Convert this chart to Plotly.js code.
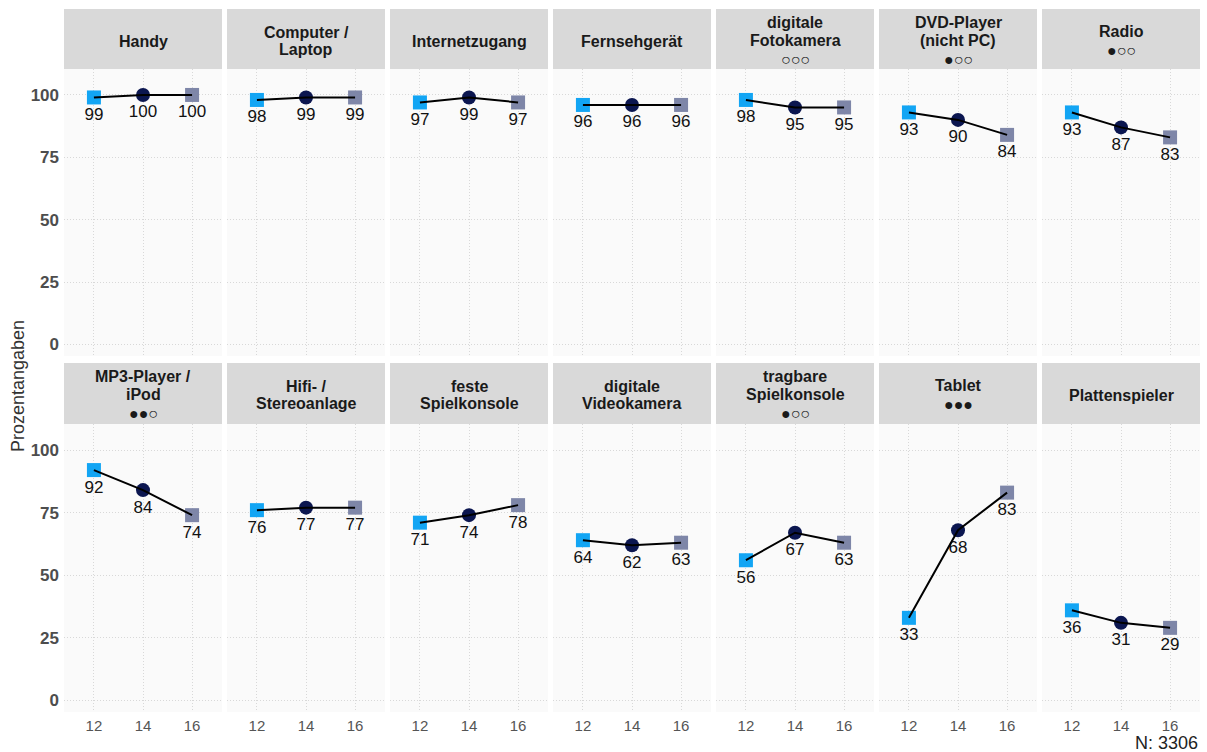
<!DOCTYPE html>
<html><head><meta charset="utf-8">
<script src="https://cdn.plot.ly/plotly-3.0.1.min.js"></script>
<style>html,body{margin:0;padding:0;background:#fff}#chart{width:1207px;height:752px}</style>
</head><body><div id="chart"></div>
<script>
const waves = [12, 14, 16];
const categories = ['Handy', 'Computer /\nLaptop', 'Internetzugang', 'Fernsehgerät', 'digitale\nFotokamera', 'DVD-Player\n(nicht PC)', 'Radio',
  'MP3-Player /\niPod', 'Hifi- /\nStereoanlage', 'feste\nSpielkonsole', 'digitale\nVideokamera', 'tragbare\nSpielkonsole', 'Tablet', 'Plattenspieler'];
const significance = ['', '', '', '', '○○○', '●○○', '●○○', '●●○', '', '', '', '●○○', '●●●', ''];
const values2012 = [99, 98, 97, 96, 98, 93, 93, 92, 76, 71, 64, 56, 33, 36];
const values2014 = [100, 99, 99, 96, 95, 90, 87, 84, 77, 74, 62, 67, 68, 31];
const values2016 = [100, 99, 97, 96, 95, 84, 83, 74, 77, 78, 63, 63, 83, 29];
const yTicks = [0, 25, 50, 75, 100];
const xTicks = [12, 14, 16];
const yTitle = 'Prozentangaben';
const footnote = 'N: 3306';

const markerColors = ['#12A5F4', '#0B1650', '#7E86A8'];
const markerSymbols = ['square', 'circle', 'square'];

const W = 1207, H = 752;
const FONT = 'Liberation Sans, Arial, sans-serif';
const colLeft = i => 64 + i * 163;
const colW = 158;
const rows = [{strip: 9, top: 69, bottom: 356}, {strip: 363, top: 424, bottom: 712}];
const px = x => x / W;
const py = y => 1 - y / H;

const data = [], shapes = [], annotations = [];
const layout = {
  width: W, height: H, margin: {l: 0, r: 0, t: 0, b: 0},
  paper_bgcolor: '#ffffff', plot_bgcolor: '#FAFAFA', showlegend: false,
  font: {family: FONT}
};

categories.forEach((cat, i) => {
  const r = Math.floor(i / 7), c = i % 7;
  const n = i + 1;
  const xa = 'xaxis' + (n === 1 ? '' : n), ya = 'yaxis' + (n === 1 ? '' : n);
  const xr = 'x' + (n === 1 ? '' : n), yr = 'y' + (n === 1 ? '' : n);
  const row = rows[r];
  layout[xa] = {
    domain: [px(colLeft(c)), px(colLeft(c) + colW)], anchor: yr,
    range: [10.78, 17.22], tickvals: xTicks, ticktext: xTicks.map(String),
    showticklabels: r === 1, ticks: '', ticklabelstandoff: 3,
    tickfont: {family: FONT, size: 15, color: '#555555'},
    showgrid: true, gridcolor: '#D8D8D8', griddash: '1px,2px', gridwidth: 1,
    zeroline: false, showline: false, fixedrange: true
  };
  layout[ya] = {
    domain: [py(row.bottom), py(row.top)], anchor: xr,
    range: [-4.6, 110.4], tickvals: yTicks, ticktext: yTicks.map(String),
    showticklabels: c === 0, ticks: '', ticklabelstandoff: 4,
    tickfont: {family: FONT, size: 17, color: '#4D4D4D', weight: 'bold'},
    showgrid: true, gridcolor: '#D8D8D8', griddash: '1px,2px', gridwidth: 1,
    zeroline: false, showline: false, fixedrange: true
  };
  const vals = [values2012[i], values2014[i], values2016[i]];
  data.push({
    type: 'scatter', mode: 'markers+text', x: waves, y: vals, xaxis: xr, yaxis: yr,
    marker: {color: markerColors, symbol: markerSymbols, size: 14, line: {width: 0}},
    text: vals.map(String), textposition: 'bottom center',
    textfont: {family: FONT, size: 17, color: '#111111'}, cliponaxis: false, hoverinfo: 'skip'
  });
  data.push({
    type: 'scatter', mode: 'lines', x: waves, y: vals, xaxis: xr, yaxis: yr,
    line: {color: '#000000', width: 2}, hoverinfo: 'skip'
  });
  shapes.push({type: 'rect', xref: 'paper', yref: 'paper', layer: 'below',
    x0: px(colLeft(c)), x1: px(colLeft(c) + colW), y0: py(row.top), y1: py(row.strip),
    fillcolor: '#D9D9D9', line: {width: 0}});
  const lines = cat.split('\n');
  const hasDots = significance[i] !== '';
  const block = (lines.length - 1) * 17.5 + (hasDots ? 19 : 0);
  const center = row.strip + 32;
  let y = center - block / 2;
  const xc = px(colLeft(c) + colW / 2);
  lines.forEach((ln, k) => {
    annotations.push({xref: 'paper', yref: 'paper', x: xc, y: py(y), xanchor: 'center', yanchor: 'middle',
      text: ln, showarrow: false, font: {family: FONT, size: 16, color: '#1A1A1A', weight: 'bold'}});
    if (k < lines.length - 1) y += 17.5;
  });
  if (hasDots) {
    y += 19;
    annotations.push({xref: 'paper', yref: 'paper', x: xc, y: py(y), xanchor: 'center', yanchor: 'middle',
      text: significance[i], showarrow: false, font: {family: FONT, size: 16, color: '#1A1A1A'}});
  }
});

annotations.push({xref: 'paper', yref: 'paper', x: px(18), y: py(386), xanchor: 'center', yanchor: 'middle',
  text: yTitle, textangle: -90, showarrow: false, font: {family: FONT, size: 18, color: '#333333'}});
annotations.push({xref: 'paper', yref: 'paper', x: px(1200), y: py(743), xanchor: 'right', yanchor: 'middle',
  text: footnote, showarrow: false, font: {family: FONT, size: 18, color: '#222222'}});

layout.shapes = shapes;
layout.annotations = annotations;
Plotly.newPlot('chart', data, layout, {displayModeBar: false, staticPlot: true});
</script>
</body></html>
